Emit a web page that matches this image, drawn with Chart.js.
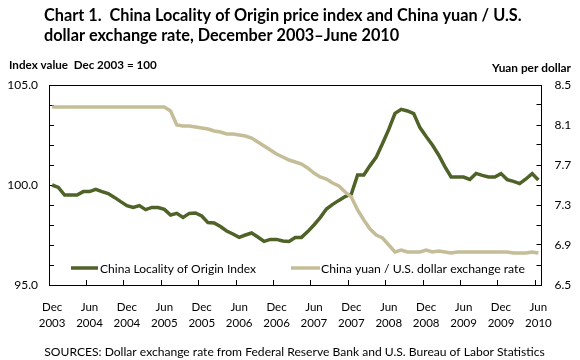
<!DOCTYPE html>
<html>
<head>
<meta charset="utf-8">
<script src="https://cdn.jsdelivr.net/npm/chart.js@4/dist/chart.umd.min.js"></script>
<style>
html,body{margin:0;padding:0;background:#fff;}
#wrap{width:580px;height:360px;position:relative;}
</style>
</head>
<body>
<div id="wrap"><canvas id="c" width="580" height="360"></canvas></div>
<script>
// ---------- data ----------
const categories = [
  "2003-12",
  "2004-01","2004-02","2004-03","2004-04","2004-05","2004-06","2004-07","2004-08","2004-09","2004-10","2004-11","2004-12",
  "2005-01","2005-02","2005-03","2005-04","2005-05","2005-06","2005-07","2005-08","2005-09","2005-10","2005-11","2005-12",
  "2006-01","2006-02","2006-03","2006-04","2006-05","2006-06","2006-07","2006-08","2006-09","2006-10","2006-11","2006-12",
  "2007-01","2007-02","2007-03","2007-04","2007-05","2007-06","2007-07","2007-08","2007-09","2007-10","2007-11","2007-12",
  "2008-01","2008-02","2008-03","2008-04","2008-05","2008-06","2008-07","2008-08","2008-09","2008-10","2008-11","2008-12",
  "2009-01","2009-02","2009-03","2009-04","2009-05","2009-06","2009-07","2009-08","2009-09","2009-10","2009-11","2009-12",
  "2010-01","2010-02","2010-03","2010-04","2010-05","2010-06"
];

const indexValues = [
  100.0, 99.88, 99.5, 99.5, 99.5, 99.67, 99.67, 99.78, 99.67, 99.57,
  99.38, 99.17, 98.97, 98.88, 98.97, 98.77, 98.88, 98.87, 98.78, 98.5,
  98.58, 98.38, 98.58, 98.6, 98.45, 98.12, 98.1, 97.92, 97.7, 97.55,
  97.38, 97.5, 97.6, 97.4, 97.18, 97.28, 97.28, 97.2, 97.18, 97.37,
  97.38, 97.67, 98.0, 98.37, 98.8, 99.03, 99.23, 99.42, 99.55, 100.5,
  100.5, 100.97, 101.4, 102.08, 102.78, 103.58, 103.78, 103.7, 103.57, 102.87,
  102.42, 102.0, 101.5, 100.92, 100.4, 100.4, 100.4, 100.28, 100.58, 100.48,
  100.4, 100.4, 100.57, 100.27, 100.18, 100.07, 100.3, 100.57, 100.25
];

const yuanValues = [
  8.28, 8.28, 8.28, 8.28, 8.28, 8.28, 8.28, 8.28, 8.28, 8.28,
  8.28, 8.28, 8.28, 8.28, 8.28, 8.28, 8.28, 8.28, 8.28, 8.24,
  8.10, 8.09, 8.09, 8.08, 8.07, 8.06, 8.04, 8.03, 8.01, 8.01,
  8.00, 7.99, 7.97, 7.93, 7.89, 7.85, 7.81, 7.78, 7.75, 7.73,
  7.71, 7.67, 7.62, 7.58, 7.56, 7.52, 7.49, 7.43, 7.38, 7.25,
  7.15, 7.06, 7.00, 6.97, 6.90, 6.83, 6.85, 6.83, 6.83, 6.83,
  6.85, 6.83, 6.84, 6.83, 6.82, 6.83, 6.83, 6.83, 6.83, 6.83,
  6.83, 6.83, 6.83, 6.83, 6.82, 6.82, 6.82, 6.83, 6.82
];

const xTickLabels = [
  ["Dec","2003"],["Jun","2004"],["Dec","2004"],["Jun","2005"],["Dec","2005"],
  ["Jun","2006"],["Dec","2006"],["Jun","2007"],["Dec","2007"],["Jun","2008"],
  ["Dec","2008"],["Jun","2009"],["Dec","2009"],["Jun","2010"]
];
const leftTickLabels = [95, 100, 105];
const rightTickLabels = [6.5, 6.9, 7.3, 7.7, 8.1, 8.5];

const seriesNames = ["China Locality of Origin Index", "China yuan / U.S. dollar exchange rate"];
const titleLines = [
  "Chart 1.  China Locality of Origin price index and China yuan / U.S.",
  "dollar exchange rate, December 2003\u2013June 2010"
];
const leftAxisTitle = "Index value  Dec 2003 = 100";
const rightAxisTitle = "Yuan per dollar";
const sourceNote = "SOURCES: Dollar exchange rate from Federal Reserve Bank and U.S. Bureau of Labor Statistics";

// ---------- styles ----------
const GREEN = "#4F6228";
const TAN = "#C4BD97";
const FONT = "Lato";

Chart.defaults.font.family = FONT;
Chart.defaults.color = "#000";

function fitSize(ctx, text, weight, target) {
  ctx.font = weight + " 100px " + FONT;
  return 100 * target / ctx.measureText(text).width;
}

const decor = {
  id: "decor",
  afterDraw(chart) {
    const ctx = chart.ctx;
    const a = chart.chartArea;
    ctx.save();
    // top border of plot
    ctx.strokeStyle = "#000";
    ctx.lineWidth = 1;
    ctx.beginPath();
    ctx.moveTo(a.left, Math.round(a.top) + 0.5);
    ctx.lineTo(a.right, Math.round(a.top) + 0.5);
    ctx.stroke();

    ctx.fillStyle = "#000";
    ctx.textBaseline = "alphabetic";
    // title
    const ts = fitSize(ctx, titleLines[0], "bold", 478);
    ctx.font = "bold " + ts + "px " + FONT;
    ctx.textAlign = "left";
    ctx.fillText(titleLines[0], 44, 21);
    ctx.fillText(titleLines[1], 44, 41);

    // axis titles
    let s = fitSize(ctx, leftAxisTitle, "bold", 148);
    ctx.font = "bold " + s + "px " + FONT;
    ctx.fillText(leftAxisTitle, 9, 69);
    s = fitSize(ctx, rightAxisTitle, "bold", 79);
    ctx.font = "bold " + s + "px " + FONT;
    ctx.textAlign = "right";
    ctx.fillText(rightAxisTitle, 571, 72);

    // source
    s = fitSize(ctx, sourceNote, "normal", 501);
    ctx.font = "normal " + s + "px " + FONT;
    ctx.textAlign = "center";
    ctx.fillText(sourceNote, 294.5, 356);

    // legend
    const ly = a.bottom - 17;
    ctx.lineWidth = 3.5;
    ctx.lineCap = "butt";
    ctx.strokeStyle = GREEN;
    ctx.beginPath(); ctx.moveTo(a.left + 22, ly); ctx.lineTo(a.left + 49, ly); ctx.stroke();
    ctx.strokeStyle = TAN;
    ctx.beginPath(); ctx.moveTo(a.left + 242, ly); ctx.lineTo(a.left + 271, ly); ctx.stroke();
    ctx.textAlign = "left";
    s = fitSize(ctx, seriesNames[0], "normal", 156);
    ctx.font = "normal " + s + "px " + FONT;
    ctx.fillText(seriesNames[0], a.left + 51, ly + 4.5);
    s = fitSize(ctx, seriesNames[1], "normal", 204);
    ctx.font = "normal " + s + "px " + FONT;
    ctx.fillText(seriesNames[1], a.left + 272, ly + 4.5);
    ctx.restore();
  }
};

new Chart(document.getElementById("c"), {
  type: "line",
  data: {
    labels: categories,
    datasets: [
      {
        label: seriesNames[1],
        data: yuanValues,
        yAxisID: "y2",
        borderColor: TAN,
        borderWidth: 3.5,
        pointRadius: 0,
        tension: 0,
        fill: false,
        order: 0
      },
      {
        label: seriesNames[0],
        data: indexValues,
        yAxisID: "y",
        borderColor: GREEN,
        borderWidth: 3.5,
        pointRadius: 0,
        tension: 0,
        fill: false,
        order: 1
      }
    ]
  },
  options: {
    responsive: false,
    devicePixelRatio: 1,
    animation: false,
    layout: { padding: { top: 85, left: 0, right: 0, bottom: 0 } },
    plugins: { legend: { display: false }, tooltip: { enabled: false }, title: { display: false } },
    scales: {
      x: {
        type: "category",
        position: "bottom",
        offset: true,
        grid: {
          offset: true,
          drawOnChartArea: false,
          drawTicks: true,
          tickLength: -5,
          color: (c) => (c.index !== undefined && c.index % 6 === 0) ? "#000" : "rgba(0,0,0,0)",
          lineWidth: 1
        },
        border: { display: true, color: "#000", width: 1 },
        ticks: {
          autoSkip: false,
          maxRotation: 0,
          minRotation: 0,
          padding: 19,
          color: "#000",
          font: { family: FONT, size: 11.5, lineHeight: 1.39 },
          callback: (v, i) => (i % 6 === 0 ? xTickLabels[i / 6] : "")
        },
        afterFit: (sc) => { sc.height = 75; }
      },
      y: {
        type: "linear",
        position: "left",
        min: 95,
        max: 105,
        grid: { drawOnChartArea: false, drawTicks: true, tickLength: -5, color: "#000" },
        border: { display: true, color: "#000", width: 1 },
        ticks: {
          stepSize: 1,
          padding: 16,
          color: "#000",
          font: { family: FONT, size: 12 },
          callback: (v) => (leftTickLabels.includes(v) ? v.toFixed(1) : "")
        },
        afterFit: (sc) => { sc.width = 49; }
      },
      y2: {
        type: "linear",
        position: "right",
        min: 6.5,
        max: 8.5,
        grid: { drawOnChartArea: false, drawTicks: true, tickLength: -5, color: "#000" },
        border: { display: true, color: "#000", width: 1 },
        ticks: {
          stepSize: 0.1,
          padding: 18,
          color: "#000",
          font: { family: FONT, size: 12 },
          callback: (v) => (rightTickLabels.some((t) => Math.abs(t - v) < 1e-6) ? v.toFixed(1) : "")
        },
        afterFit: (sc) => { sc.width = 38.5; }
      }
    }
  },
  plugins: [decor]
});
</script>
</body>
</html>
